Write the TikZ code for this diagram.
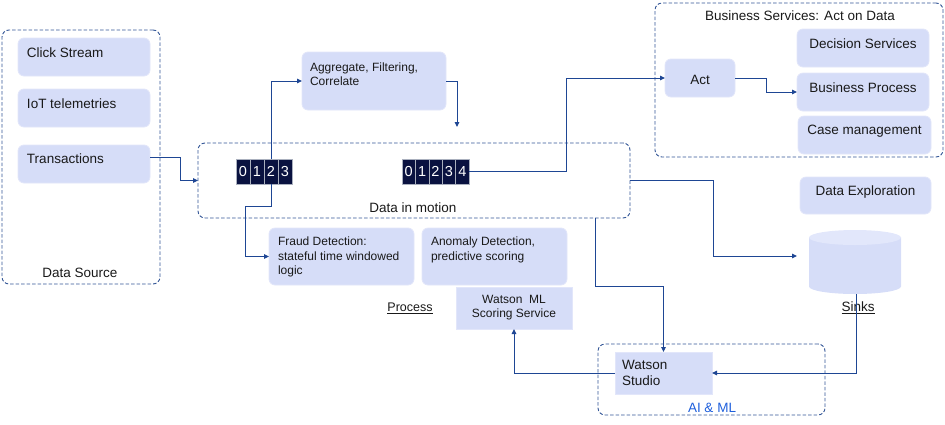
\documentclass[tikz,border=0pt]{standalone}
\usepackage{fontspec}
\setmainfont{Liberation Sans}
\usetikzlibrary{arrows.meta,calc}
\definecolor{boxfill}{RGB}{214,221,248}
\definecolor{boxedge}{RGB}{226,230,250}
\definecolor{cylend}{RGB}{226,231,251}
\definecolor{linec}{RGB}{30,70,148}
\definecolor{grpc}{RGB}{50,85,150}
\definecolor{cellc}{RGB}{10,18,64}
\definecolor{celledge}{RGB}{170,176,190}
\definecolor{aimlc}{RGB}{30,95,220}
\definecolor{txtc}{RGB}{25,25,25}
\begin{document}
\begin{tikzpicture}[x=1pt,y=-1pt,
  every node/.style={inner sep=0pt, outer sep=0pt, text=txtc},
  grp/.style={draw=grpc, line width=0.9pt, dash pattern=on 3.5pt off 2pt, rounded corners=7pt, anchor=north west},
  bx/.style={fill=boxfill, draw=boxedge, line width=0.8pt, rounded corners=6pt, anchor=north west},
  sqbx/.style={fill=boxfill, draw=boxedge, line width=0.8pt, anchor=north west},
  lbl/.style={font=\fontsize{13.5}{16}\selectfont, yshift=-2pt},
  sml/.style={font=\fontsize{12}{14.3}\selectfont, align=left, anchor=north west},
  conn/.style={draw=linec, line width=1pt, -{Triangle[length=5pt,width=4.5pt]}},
  cella/.style={fill=cellc, draw=celledge, line width=0.6pt, minimum width=14pt, minimum height=25pt, text=white, font=\fontsize{14.5}{16}\selectfont, anchor=north west},
  cellb/.style={cella, minimum width=13.4pt},
]
\useasboundingbox (0,0) rectangle (945,424);

% groups
\node[grp, minimum width=158pt, minimum height=254pt] (src) at (2,30) {};
\node[grp, minimum width=432pt, minimum height=75pt] (dim) at (198,143) {};
\node[grp, minimum width=288pt, minimum height=154pt] (bsvc) at (655,3) {};
\node[grp, minimum width=227pt, minimum height=71pt] (aiml) at (598,344) {};

\node[lbl, anchor=mid] at (80,273) {Data Source};
\node[lbl, anchor=mid] at (413,208) {Data in motion};
\node[lbl, anchor=mid] at (800,16) {Business Services: Act on Data};
\node[lbl, anchor=mid, text=aimlc] at (712,408) {AI \& ML};

% data sources
\node[bx, minimum width=132pt, minimum height=38pt] (click) at (18,38) {};
\node[lbl, anchor=mid west] at ($(click.north west)+(9,15)$) {Click Stream};
\node[bx, minimum width=132pt, minimum height=38pt] (iot) at (18,89) {};
\node[lbl, anchor=mid west] at ($(iot.north west)+(9,15)$) {IoT telemetries};
\node[bx, minimum width=132pt, minimum height=38pt] (trans) at (18,145) {};
\node[lbl, anchor=mid west] at ($(trans.north west)+(9,14)$) {Transactions};

% processing
\node[bx, minimum width=144pt, minimum height=58pt] (agg) at (302,52) {};
\node[sml] at ($(agg.north west)+(8,10.5)$) {Aggregate, Filtering,\\Correlate};
\node[bx, minimum width=145pt, minimum height=57pt] (fraud) at (269,228) {};
\node[sml] at ($(fraud.north west)+(9,9)$) {Fraud Detection:\\stateful time windowed\\logic};
\node[bx, minimum width=145pt, minimum height=57pt] (anom) at (422,228) {};
\node[sml] at ($(anom.north west)+(9,9)$) {Anomaly Detection,\\predictive scoring};
\node[sqbx, minimum width=116pt, minimum height=42pt] (wml) at (456,287) {};
\node[sml, align=center, anchor=north] at ($(wml.north)+(0,8)$) {Watson\ \ ML\\Scoring Service};
\node[font=\fontsize{12.5}{15}\selectfont, anchor=mid, yshift=-2pt] at (410,307) {\underline{Process}};

% counters
\node[cella] (a0) at (236,159) {0};
\node[cella] (a1) at (250,159) {1};
\node[cella] (a2) at (264,159) {2};
\node[cella] (a3) at (278,159) {3};
\node[cellb] (b0) at (402,159) {0};
\node[cellb] (b1) at (415.4,159) {1};
\node[cellb] (b2) at (428.8,159) {2};
\node[cellb] (b3) at (442.2,159) {3};
\node[cellb] (b4) at (455.6,159) {4};

% business services
\node[bx, minimum width=70pt, minimum height=38pt] (act) at (665,59) {};
\node[lbl, anchor=mid] at ($(act.center)+(0,1.5)$) {Act};
\node[bx, minimum width=132pt, minimum height=38pt] (dec) at (797,29) {};
\node[lbl, anchor=mid] at ($(dec.north)+(0,15)$) {Decision Services};
\node[bx, minimum width=132pt, minimum height=38pt] (bp) at (797,73) {};
\node[lbl, anchor=mid] at ($(bp.north)+(0,15)$) {Business Process};
\node[bx, minimum width=133pt, minimum height=38pt] (case) at (798,116) {};
\node[lbl, anchor=mid] at ($(case.north)+(0,14)$) {Case management};
\node[bx, minimum width=131pt, minimum height=37pt] (dexp) at (800,177) {};
\node[lbl, anchor=mid] at ($(dexp.north)+(0,14)$) {Data Exploration};

% sinks cylinder
\fill[boxfill] (809,237.5) -- (809,286.5) arc[start angle=180, end angle=0, x radius=46, y radius=7.5] -- (901,237.5) -- cycle;
\fill[cylend] (855,237.5) ellipse[x radius=46, y radius=7.5];
\coordinate (sinkw) at (797,256);
\coordinate (sinkb) at (856,294);
\node[lbl, anchor=mid] at (858,307) {\underline{Sinks}};

% AI & ML
\node[sqbx, minimum width=97pt, minimum height=42pt] (ws) at (615,352) {};
\node[font=\fontsize{13.5}{16}\selectfont, align=left, anchor=north west] at ($(ws.north west)+(7,8)$) {Watson\\Studio};

% connectors
\draw[conn] ($(trans.east)+(0,-7)$) -- (180,157) |- (dim.west);
\draw[conn] (a2.north) |- (agg.west);
\coordinate (aggdn) at (457,127);
\draw[conn] (agg.east) -| (aggdn);
\draw[conn] (a2.south) -- (a2.south |- 0,206) -- (245,206) |- (fraud.west);
\draw[conn] (b4.east) -- (566,171.5) |- (act.west);
\draw[conn] (act.east) -- (766,78) |- (bp.west);
\draw[conn] (dim.east) -- (713,180.5) |- (sinkw);
\draw[conn] ($(dim.south west)+(397,0)$) -- (595,286) -| (ws.north);
\draw[conn] (sinkb) |- (ws.east);
\draw[conn] (ws.west) -| (wml.south);
\end{tikzpicture}
\end{document}
